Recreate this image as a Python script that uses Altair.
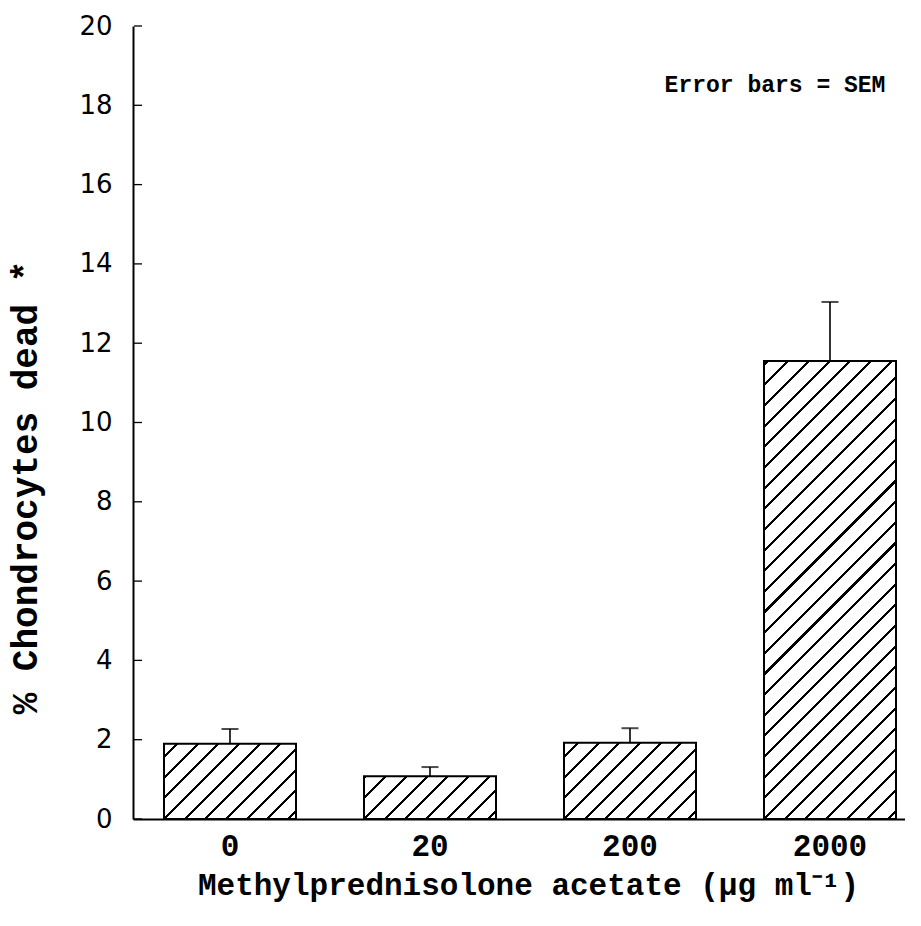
import math
import altair as alt
import pandas as pd

# ---- data ----
doses = ["0", "20", "200", "2000"]
pct_dead = [1.9, 1.08, 1.92, 11.55]
sem = [0.37, 0.23, 0.37, 1.49]
y_tick_values = [0, 2, 4, 6, 8, 10, 12, 14, 16, 18, 20]
note_text = ["Error bars = SEM"]
note_dose = ["2000"]
note_y = [18.5]

# ---- layout ----
PLOT_W, PLOT_H, Y_MAX = 772, 793, 20
PAD_IN, PAD_OUT, ALIGN = 0.34, 0.10, 0.775
step = PLOT_W / (len(doses) - PAD_IN + 2 * PAD_OUT)
bandw = step * (1 - PAD_IN)

df = pd.DataFrame({"dose": doses, "pct": pct_dead, "sem": sem})
df["upper"] = df["pct"] + df["sem"]
ticks_df = pd.DataFrame({"dose": ["0"] * len(y_tick_values), "pct": y_tick_values})
note_df = pd.DataFrame({"dose": note_dose, "pct": note_y, "label": note_text})

MONO = "Liberation Mono"


def hatch(w, h, s=14.6, lw=2.2):
    """Diagonal '/' hatch as a hard-stop linear gradient (bounding-box units)."""
    D = (w + h) / math.sqrt(2)
    f = (w + h) / (w * w + h * h)
    d0 = h / math.sqrt(2)
    stops = [alt.GradientStop(offset=0, color="white")]
    kmin = math.floor(-d0 / s) - 1
    kmax = math.ceil((D - d0) / s) + 1
    for k in range(kmin, kmax + 1):
        d = d0 + k * s
        a, b = (d - lw / 2) / D, (d + lw / 2) / D
        if b <= 0 or a >= 1:
            continue
        a, b = max(a, 0.0), min(b, 1.0)
        stops += [
            alt.GradientStop(offset=a, color="white"),
            alt.GradientStop(offset=a, color="black"),
            alt.GradientStop(offset=b, color="black"),
            alt.GradientStop(offset=b, color="white"),
        ]
    stops.append(alt.GradientStop(offset=1, color="white"))
    return alt.LinearGradient(gradient="linear", stops=stops, x1=0, y1=0, x2=f * w, y2=f * h)


x_scale = alt.Scale(domain=doses, paddingInner=PAD_IN, paddingOuter=PAD_OUT, align=ALIGN)
y_scale = alt.Scale(domain=[0, Y_MAX], nice=False, zero=True)

x_axis = alt.Axis(
    title="Methylprednisolone acetate (μg ml⁻¹)",
    labelAngle=0, labelFont=MONO, labelFontWeight="bold", labelFontSize=31,
    labelColor="black", labelPadding=27, labelBaseline="middle",
    ticks=False, tickSize=0,
    titleFont=MONO, titleFontWeight="bold", titleFontSize=31, titleColor="black",
    titleBaseline="middle", titleAlign="center", titleX=395, titleY=66,
    domainColor="black", domainWidth=2, grid=False,
)
y_axis = alt.Axis(
    title="% Chondrocytes dead *", values=y_tick_values,
    labelFont="DejaVu Sans", labelFontSize=26, labelColor="black",
    labelPadding=21, ticks=False, tickSize=0, labelFlush=False,
    titleFont=MONO, titleFontWeight="bold", titleFontSize=36, titleColor="black",
    titleBaseline="middle", titleAlign="center", titleAngle=270,
    titleX=-108, titleY=461,
    domainColor="black", domainWidth=2, grid=False,
)


def X():
    return alt.X("dose:N", sort=doses, scale=x_scale, axis=x_axis)


def Y(field="pct"):
    return alt.Y(f"{field}:Q", scale=y_scale, axis=y_axis)


layers = []
for d, v in zip(doses, pct_dead):
    h = v * PLOT_H / Y_MAX
    bar = (
        alt.Chart(df)
        .transform_filter(alt.datum.dose == d)
        .mark_bar(fill=hatch(bandw, h), stroke="black", strokeWidth=2)
        .encode(x=X(), y=Y())
    )
    layers.append(bar)

err = alt.Chart(df).mark_rule(color="black", strokeWidth=1.6).encode(
    x=X(), y=Y(), y2="upper:Q",
)
cap = (
    alt.Chart(df)
    .transform_calculate(pct="datum.upper")
    .mark_tick(color="black", thickness=2, size=17)
    .encode(x=X(), y=Y())
)
yticks = alt.Chart(ticks_df).mark_rule(color="black", strokeWidth=1.3).encode(
    y=Y(), x=alt.value(1), x2=alt.value(9),
)
note = alt.Chart(note_df).mark_text(
    font=MONO, fontWeight="bold", fontSize=23, color="black", dx=-55, baseline="middle"
).encode(x=X(), y=Y(), text="label:N")

chart = (
    alt.layer(*layers, err, cap, yticks, note)
    .properties(
        width=PLOT_W, height=PLOT_H,
        padding={"left": 125, "top": 18, "right": 0, "bottom": 90},
        autosize=alt.AutoSizeParams(type="none"),
        background="white",
    )
    .configure_view(stroke=None)
)

chart.save("out.html", embed_options={"renderer": "svg", "actions": False})
